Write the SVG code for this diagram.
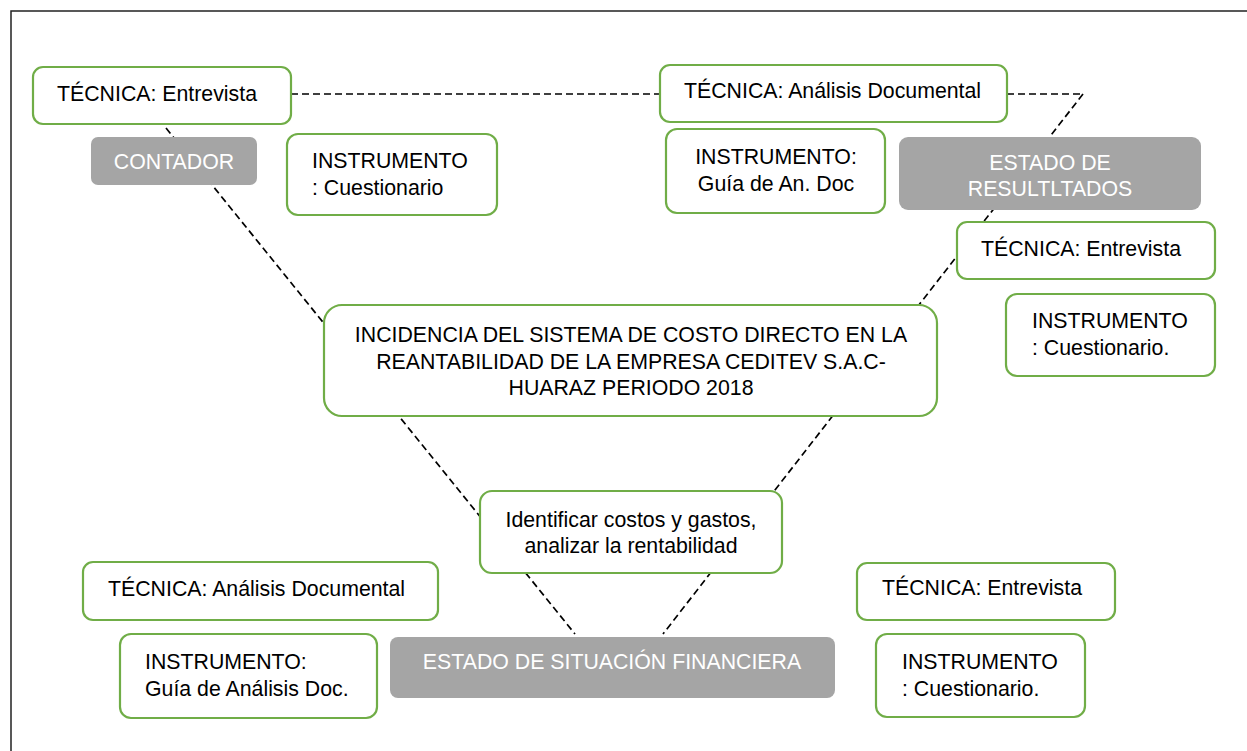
<svg xmlns="http://www.w3.org/2000/svg" width="1247" height="751" viewBox="0 0 1247 751">
<style>
.g{fill:#fff;stroke:#70AD47;stroke-width:2.2}
.s{fill:#A5A5A5;stroke:none}
.t{font-family:"Liberation Sans",Arial,sans-serif;font-size:21.3px;fill:#000}
.w{font-family:"Liberation Sans",Arial,sans-serif;font-size:21.3px;fill:#fff}
.c{text-anchor:middle}
.d{fill:none;stroke:#000;stroke-width:1.7;stroke-dasharray:7 4}
</style>
<rect width="1247" height="751" fill="#fff"/>
<path d="M11,751 V11 H1247" fill="none" stroke="#222" stroke-width="1.5"/>
<g id="connectors">
<path class="d" d="M291,94 H660"/>
<path class="d" d="M1007,94 H1083"/>
<path class="d" d="M166,128 L575,634"/>
<path class="d" d="M1083,94 L663,634"/>
</g>
<g id="tec-entrevista-1"><rect class="g" x="33" y="67" width="258" height="57" rx="10"/><text class="t" x="57" y="101">TÉCNICA: Entrevista</text></g>
<g id="contador"><rect class="s" x="91" y="137" width="166" height="48" rx="7"/><text class="w c" x="174" y="169">CONTADOR</text></g>
<g id="instr-cuest-1"><rect class="g" x="287" y="134" width="210" height="81" rx="11"/><text class="t" x="312" y="168">INSTRUMENTO</text><text class="t" x="312" y="195">: Cuestionario</text></g>
<g id="tec-analisis-1"><rect class="g" x="660" y="65" width="347" height="57" rx="10"/><text class="t" x="684" y="98">TÉCNICA: Análisis Documental</text></g>
<g id="instr-guia-1"><rect class="g" x="666" y="129" width="219" height="84" rx="11"/><text class="t c" x="776" y="164">INSTRUMENTO:</text><text class="t c" x="776" y="191">Guía de An. Doc</text></g>
<g id="estado-resultados"><rect class="s" x="899" y="137" width="302" height="73" rx="9"/><text class="w c" x="1050" y="170">ESTADO DE</text><text class="w c" x="1050" y="196">RESULTLTADOS</text></g>
<g id="tec-entrevista-2"><rect class="g" x="957" y="222" width="258" height="57" rx="10"/><text class="t" x="981" y="256">TÉCNICA: Entrevista</text></g>
<g id="instr-cuest-2"><rect class="g" x="1006" y="294" width="209" height="82" rx="11"/><text class="t" x="1032" y="328">INSTRUMENTO</text><text class="t" x="1032" y="355">: Cuestionario.</text></g>
<g id="central"><rect class="g" x="324" y="305" width="613" height="111" rx="18"/><text class="t c" x="631" y="342">INCIDENCIA DEL SISTEMA DE COSTO DIRECTO EN LA</text><text class="t c" x="631" y="369">REANTABILIDAD DE LA EMPRESA CEDITEV S.A.C-</text><text class="t c" x="631" y="395">HUARAZ PERIODO 2018</text></g>
<g id="identificar"><rect class="g" x="480" y="491" width="302" height="82" rx="12"/><text class="t c" x="631" y="527">Identificar costos y gastos,</text><text class="t c" x="631" y="553">analizar la rentabilidad</text></g>
<g id="tec-analisis-2"><rect class="g" x="83" y="562" width="355" height="58" rx="10"/><text class="t" x="108" y="596">TÉCNICA: Análisis Documental</text></g>
<g id="instr-guia-2"><rect class="g" x="120" y="634" width="257" height="84" rx="11"/><text class="t" x="145" y="669">INSTRUMENTO:</text><text class="t" x="145" y="696">Guía de Análisis Doc.</text></g>
<g id="estado-situacion"><rect class="s" x="390" y="637" width="445" height="61" rx="8"/><text class="w c" x="612" y="669">ESTADO DE SITUACIÓN FINANCIERA</text></g>
<g id="tec-entrevista-3"><rect class="g" x="857" y="563" width="258" height="57" rx="10"/><text class="t" x="882" y="595">TÉCNICA: Entrevista</text></g>
<g id="instr-cuest-3"><rect class="g" x="876" y="634" width="209" height="83" rx="11"/><text class="t" x="902" y="669">INSTRUMENTO</text><text class="t" x="902" y="696">: Cuestionario.</text></g>
</svg>
